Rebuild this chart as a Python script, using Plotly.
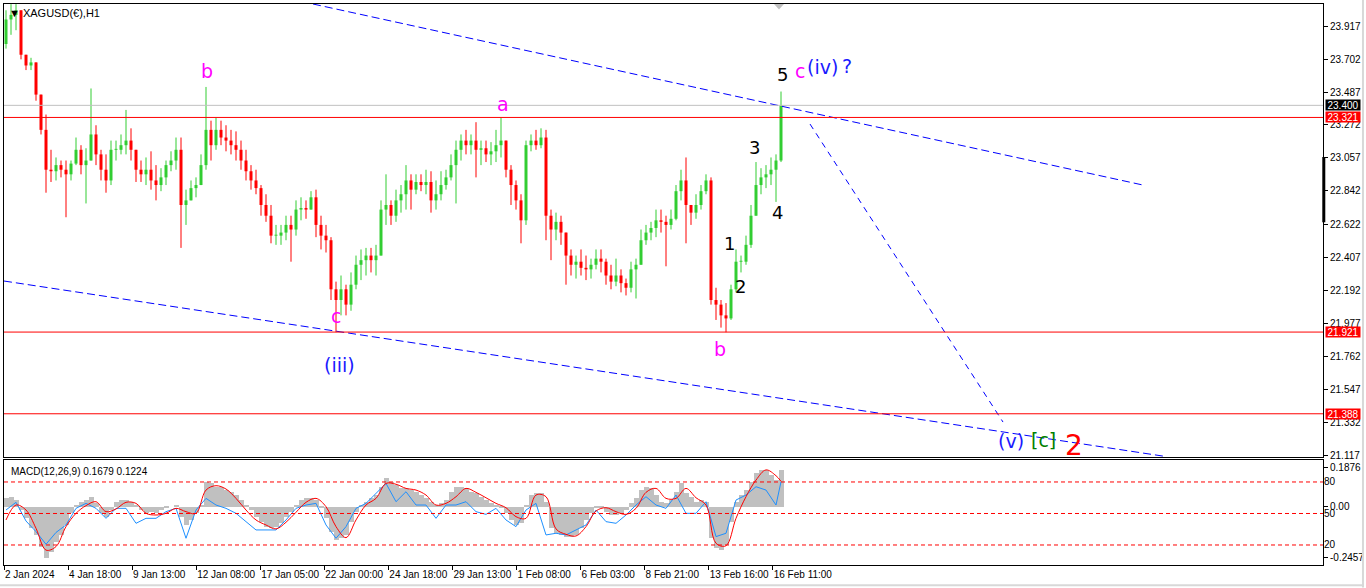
import plotly.graph_objects as go

# ---------------- DATA ----------------
symbol_title = "XAGUSD(€),H1"
macd_title = "MACD(12,26,9) 0.1679 0.1224"

first_open = 23.80
highs = [
    24.02, 24.06, 24.06, 24.02, 23.73, 23.71, 23.68, 23.47, 23.34, 23.11,
    23.06, 23.04, 23.04, 23.04, 23.19, 23.14, 23.12, 23.51, 23.27, 23.11,
    23.08, 23.17, 23.17, 23.21, 23.37, 23.25, 23.11, 23.04, 23.06, 23.10,
    23.01, 22.99, 23.04, 23.10, 23.19, 23.19, 22.85, 22.91, 22.93, 23.08,
    23.52, 23.30, 23.32, 23.30, 23.27, 23.24, 23.23, 23.17, 23.11, 23.01,
    22.98, 22.88, 22.82, 22.75, 22.62, 22.62, 22.68, 22.68, 22.78, 22.80,
    22.78, 22.84, 22.85, 22.68, 22.62, 22.54, 22.25, 22.29, 22.23, 22.31,
    22.42, 22.46, 22.47, 22.47, 22.49, 22.78, 22.95, 22.78, 22.85, 22.88,
    23.01, 22.95, 22.95, 22.95, 22.98, 22.97, 22.91, 22.97, 22.98, 23.08,
    23.17, 23.21, 23.24, 23.21, 23.29, 23.17, 23.17, 23.16, 23.24, 23.32,
    23.17, 23.01, 22.91, 22.82, 23.17, 23.21, 23.24, 23.25, 23.24, 22.72,
    22.70, 22.68, 22.55, 22.46, 22.42, 22.46, 22.42, 22.40, 22.46, 22.46,
    22.40, 22.36, 22.40, 22.33, 22.27, 22.38, 22.40, 22.59, 22.62, 22.64,
    22.72, 22.72, 22.68, 22.72, 22.88, 22.98, 23.06, 22.75, 22.82, 22.88,
    22.95, 22.93, 22.21, 22.13, 22.11, 22.23, 22.46, 22.42, 22.55, 22.75,
    23.03, 22.99, 23.01, 23.06, 23.08, 23.49,
]
lows = [
    23.77, 23.86, 23.89, 23.70, 23.63, 23.63, 23.43, 23.21, 22.83, 22.90,
    22.91, 22.93, 22.67, 22.91, 23.01, 22.95, 22.76, 23.04, 23.01, 22.91,
    22.83, 22.88, 23.04, 23.08, 23.08, 23.04, 22.90, 22.90, 22.88, 22.85,
    22.78, 22.84, 22.88, 22.97, 22.98, 22.47, 22.62, 22.78, 22.80, 22.88,
    22.98, 23.04, 23.11, 23.14, 23.10, 23.08, 23.04, 22.98, 22.91, 22.85,
    22.82, 22.68, 22.64, 22.50, 22.49, 22.49, 22.52, 22.38, 22.55, 22.65,
    22.66, 22.72, 22.54, 22.46, 22.44, 22.13, 21.92, 22.03, 22.03, 22.06,
    22.20, 22.26, 22.29, 22.31, 22.29, 22.42, 22.62, 22.62, 22.64, 22.70,
    22.72, 22.72, 22.82, 22.84, 22.82, 22.70, 22.72, 22.78, 22.85, 22.91,
    22.76, 23.04, 23.08, 23.08, 22.93, 23.01, 23.03, 23.01, 23.03, 23.06,
    22.93, 22.75, 22.72, 22.50, 22.62, 23.10, 23.11, 23.12, 22.52, 22.39,
    22.52, 22.49, 22.23, 22.29, 22.27, 22.29, 22.26, 22.27, 22.33, 22.31,
    22.23, 22.20, 22.22, 22.18, 22.16, 22.18, 22.14, 22.38, 22.49, 22.52,
    22.54, 22.57, 22.35, 22.59, 22.65, 22.78, 22.50, 22.62, 22.66, 22.72,
    22.82, 22.10, 22.00, 21.95, 21.92, 22.00, 22.18, 22.31, 22.36, 22.47,
    22.68, 22.82, 22.86, 22.88, 22.77, 23.03,
]
closes = [
    23.96, 23.99, 24.02, 23.73, 23.66, 23.68, 23.47, 23.24, 22.98, 22.97,
    23.01, 22.98, 22.95, 23.02, 23.11, 23.01, 23.04, 23.21, 23.08, 22.98,
    22.91, 23.11, 23.11, 23.14, 23.17, 23.11, 22.98, 22.95, 22.98, 22.91,
    22.88, 22.93, 23.01, 23.04, 23.11, 22.75, 22.78, 22.86, 22.88, 23.01,
    23.24, 23.14, 23.24, 23.19, 23.17, 23.14, 23.11, 23.04, 22.97, 22.91,
    22.86, 22.75, 22.68, 22.55, 22.55, 22.57, 22.62, 22.59, 22.72, 22.73,
    22.72, 22.80, 22.62, 22.55, 22.52, 22.20, 22.13, 22.20, 22.10, 22.23,
    22.36, 22.39, 22.42, 22.39, 22.42, 22.72, 22.75, 22.68, 22.78, 22.82,
    22.91, 22.85, 22.90, 22.88, 22.90, 22.78, 22.82, 22.88, 22.93, 23.01,
    23.11, 23.17, 23.14, 23.17, 23.11, 23.12, 23.08, 23.10, 23.14, 23.17,
    22.98, 22.88, 22.78, 22.65, 23.14, 23.17, 23.14, 23.19, 22.68, 22.59,
    22.64, 22.57, 22.42, 22.36, 22.38, 22.34, 22.33, 22.36, 22.40, 22.38,
    22.29, 22.25, 22.29, 22.24, 22.21, 22.33, 22.36, 22.52, 22.57, 22.60,
    22.65, 22.64, 22.62, 22.66, 22.84, 22.91, 22.75, 22.70, 22.75, 22.84,
    22.91, 22.13, 22.10, 22.03, 22.01, 22.20, 22.38, 22.38, 22.49, 22.68,
    22.88, 22.93, 22.95, 22.98, 23.04, 23.40,
]

macd_main = [
    0.040, 0.048, 0.032, -0.016, -0.056, -0.104, -0.136, -0.193, -0.245, -0.217,
    -0.168, -0.136, -0.088, -0.032, 0.008, 0.024, 0.032, 0.048, 0.016, -0.032,
    -0.048, -0.016, 0.024, 0.032, 0.032, 0.024, 0.008, -0.016, -0.032, -0.024,
    -0.032, -0.016, -0.008, 0.000, 0.008, -0.048, -0.088, -0.064, -0.032, 0.008,
    0.120, 0.112, 0.096, 0.096, 0.080, 0.072, 0.056, 0.032, 0.008, -0.016,
    -0.048, -0.072, -0.096, -0.104, -0.096, -0.080, -0.048, -0.024, 0.008, 0.032,
    0.040, 0.040, 0.032, -0.008, -0.056, -0.120, -0.160, -0.152, -0.136, -0.072,
    -0.024, 0.008, 0.024, 0.040, 0.056, 0.096, 0.136, 0.120, 0.104, 0.088,
    0.088, 0.080, 0.072, 0.056, 0.040, 0.024, 0.008, 0.016, 0.032, 0.072,
    0.096, 0.096, 0.088, 0.072, 0.064, 0.048, 0.032, 0.016, 0.008, -0.008,
    -0.032, -0.064, -0.088, -0.080, 0.008, 0.056, 0.064, 0.064, 0.024, -0.104,
    -0.128, -0.136, -0.144, -0.144, -0.136, -0.104, -0.064, -0.032, -0.008, -0.008,
    -0.024, -0.040, -0.040, -0.032, -0.016, 0.016, 0.040, 0.080, 0.096, 0.088,
    0.056, 0.024, 0.016, 0.032, 0.072, 0.112, 0.064, 0.048, 0.024, 0.032,
    0.024, -0.152, -0.200, -0.208, -0.185, -0.072, 0.024, 0.056, 0.080, 0.120,
    0.160, 0.177, 0.177, 0.153, 0.128, 0.175,
]
macd_signal = [
    -0.064, 0.008, -0.016, -0.104, -0.209, -0.192, -0.096, -0.032, 0.005, 0.024,
    -0.024, -0.011, 0.021, 0.016, -0.032, -0.040, -0.032, -0.008, -0.024, -0.032,
    0.080, 0.101, 0.085, 0.040, -0.016, -0.064, -0.088, -0.107, -0.075, -0.027,
    0.021, 0.040, 0.000, -0.096, -0.149, -0.064, 0.008, 0.040, 0.112, 0.108,
    0.088, 0.080, 0.056, 0.008, 0.016, 0.048, 0.088, 0.069, 0.043, 0.016,
    -0.005, -0.048, -0.056, 0.056, 0.048, -0.107, -0.133, -0.141, -0.096, -0.021,
    -0.005, -0.024, -0.037, -0.008, 0.069, 0.088, 0.040, 0.040, 0.088, 0.043,
    0.008, -0.176, -0.188, -0.056, 0.048, 0.128, 0.177, 0.149, 0.122,
]
fast_line = [
    -0.016, 0.021, -0.069, -0.120, -0.181, -0.124, -0.088, -0.008, 0.016, -0.008,
    -0.056, -0.008, -0.008, -0.080, -0.056, -0.056, -0.024, -0.008, -0.152, -0.016,
    0.040, 0.008, -0.008, -0.032, -0.072, -0.112, -0.112, -0.112, -0.064, -0.008,
    0.008, 0.016, -0.088, -0.152, -0.096, -0.008, 0.016, 0.064, 0.112, 0.024,
    0.072, 0.008, 0.008, -0.056, 0.008, 0.008, 0.024, -0.024, -0.037, -0.008,
    -0.064, -0.096, -0.016, 0.016, -0.136, -0.128, -0.136, -0.112, -0.088, -0.016,
    -0.072, -0.080, -0.040, 0.008, 0.048, 0.008, -0.008, 0.056, -0.032, -0.032,
    0.024, -0.144, -0.128, 0.032, 0.056, 0.096, 0.080, 0.008, 0.120,
]

time_labels = ["2 Jan 2024", "4 Jan 18:00", "9 Jan 13:00", "12 Jan 08:00",
               "17 Jan 05:00", "22 Jan 00:00", "24 Jan 18:00", "29 Jan 13:00",
               "1 Feb 08:00", "6 Feb 03:00", "8 Feb 21:00", "13 Feb 16:00",
               "16 Feb 11:00"]
price_ticks = [23.917, 23.702, 23.487, 23.272, 23.057, 22.842, 22.622,
               22.407, 22.192, 21.977, 21.762, 21.547, 21.332, 21.117]
macd_ticks = [0.1876, 0.0, -0.2457]
macd_tick_text = ["0.1876", "0.00", "-0.2457"]
level_ticks = [80, 50, 20]

bid_level = 23.400
red_levels = [23.321, 21.921, 21.388]

# trendlines: (bar0, price0, bar1, price1)
trendlines = [
    (61.4, 24.061, 227.4, 22.880),
    (-0.4, 22.254, 231.4, 21.112),
    (160.8, 23.278, 199.4, 21.334),
]

# wave labels: (bar, price, text, colour, size)
wave_labels = [
    (40.2, 23.624, "b", "#ff00ff", 19),
    (99.4, 23.409, "a", "#ff00ff", 19),
    (66.0, 22.026, "c", "#ff00ff", 19),
    (66.6, 21.706, "(iii)", "#1a1aff", 19),
    (142.8, 21.810, "b", "#ff00ff", 19),
    (144.6, 22.502, "1", "#000000", 18),
    (146.8, 22.221, "2", "#000000", 18),
    (149.6, 23.128, "3", "#000000", 18),
    (154.2, 22.698, "4", "#000000", 18),
    (155.2, 23.604, "5", "#000000", 18),
    (158.8, 23.624, "c", "#ff00ff", 19),
    (163.2, 23.650, "(iv)", "#1a1aff", 19),
    (168.2, 23.657, "?", "#1a1aff", 19),
    (201.0, 21.210, "(v)", "#1a1aff", 19),
    (207.4, 21.217, "[c]", "#008000", 19),
    (213.6, 21.184, "2", "#ff0000", 28),
]

# ---------------- BUILD ----------------
n = len(closes)
bars = list(range(n))
opens = [first_open] + closes[:-1]
hi = [max(h, o, c) for h, o, c in zip(highs, opens, closes)]
lo = [min(l, o, c) for l, o, c in zip(lows, opens, closes)]
sig_bars = list(range(0, n - 1, 2)) + [n - 1]

X_RANGE = [-0.4, 263.4]
Y_RANGE = [21.106, 24.061]
M_RANGE = [-0.2807, 0.2248]
L_RANGE = [0.95, 100.95]
FONT = "Liberation Sans"
UP, DOWN = "#32cd32", "#ff0000"

fig = go.Figure()

# candles drawn as wick + body segments (thin MT4-style bars)
for colour, is_up in ((UP, True), (DOWN, False)):
    wx, wy, bx, by = [], [], [], []
    for i in bars:
        if (closes[i] >= opens[i]) != is_up:
            continue
        wx += [i, i, None]
        wy += [lo[i], hi[i], None]
        bot, top = min(opens[i], closes[i]), max(opens[i], closes[i])
        if top - bot < 0.006:
            top = bot + 0.006
        bx += [i, i, None]
        by += [bot, top, None]
    fig.add_trace(go.Scatter(x=wx, y=wy, mode="lines", line=dict(color=colour, width=1),
                             xaxis="x", yaxis="y", hoverinfo="skip"))
    fig.add_trace(go.Scatter(x=bx, y=by, mode="lines", line=dict(color=colour, width=3),
                             xaxis="x", yaxis="y", hoverinfo="skip"))

# trendlines
dashes = ["8px,4px", "8px,4px", "6px,5px"]
for (b0, p0, b1, p1), d in zip(trendlines, dashes):
    fig.add_trace(go.Scatter(x=[b0, b1], y=[p0, p1], mode="lines",
                             line=dict(color="#0000ff", width=1, dash=d),
                             xaxis="x", yaxis="y"))

# MACD panel
fig.add_trace(go.Bar(x=bars, y=macd_main, width=1.0, marker=dict(color="#c0c0c0", line=dict(width=0)),
                     xaxis="x2", yaxis="y2", hoverinfo="skip"))
fig.add_trace(go.Scatter(x=sig_bars, y=fast_line, mode="lines",
                         line=dict(color="#1e90ff", width=1), xaxis="x2", yaxis="y2"))
fig.add_trace(go.Scatter(x=sig_bars, y=macd_signal, mode="lines", line_shape="spline",
                         line=dict(color="#ff0000", width=1), xaxis="x2", yaxis="y2"))

# horizontal levels as shapes
shapes = [dict(type="line", xref="x", yref="y", x0=X_RANGE[0], x1=X_RANGE[1],
               y0=bid_level, y1=bid_level, line=dict(color="#c0c0c0", width=1), layer="above")]
for lv in red_levels:
    shapes.append(dict(type="line", xref="x", yref="y", x0=X_RANGE[0], x1=X_RANGE[1],
                       y0=lv, y1=lv, line=dict(color="#ff0000", width=1), layer="above"))
for lv in level_ticks:
    shapes.append(dict(type="line", xref="x2", yref="y3", x0=X_RANGE[0], x1=X_RANGE[1],
                       y0=lv, y1=lv, line=dict(color="#ff0000", width=1, dash="4px,3px"), layer="above"))
shapes += [
    dict(type="line", xref="paper", yref="y", x0=1.0006, x1=1.0006, y0=23.063, y1=22.637,
         line=dict(color="#000000", width=3)),
    dict(type="path", xref="x", yref="paper", path="M 153.6 1.0 L 155.6 1.0 L 154.6 0.990 Z",
         fillcolor="#c0c0c0", line=dict(width=0)),
    dict(type="line", xref="paper", yref="paper", x0=1.0303, x1=1.0303, y0=-0.04, y1=1.01,
         line=dict(color="#d8d8d8", width=2)),
    dict(type="line", xref="paper", yref="paper", x0=-0.01, x1=1.031, y0=-0.036, y1=-0.036,
         line=dict(color="#d8d8d8", width=2)),
]

annotations = []
for b, p, t, col, sz in wave_labels:
    annotations.append(dict(x=b, y=p, xref="x", yref="y", text=t, showarrow=False,
                            font=dict(family="DejaVu Sans", size=sz, color=col)))

# price tags on the right axis
annotations.append(dict(x=1.0015, y=bid_level, xref="paper", yref="y", text=f"{bid_level:.3f}",
                        showarrow=False, xanchor="left", bgcolor="#000000", width=34, height=10,
                        font=dict(family=FONT, size=10, color="#ffffff"), borderpad=0))
for lv in red_levels:
    annotations.append(dict(x=1.0015, y=lv, xref="paper", yref="y", text=f"{lv:.3f}",
                            showarrow=False, xanchor="left", bgcolor="#ff0000", width=34, height=10,
                            font=dict(family=FONT, size=10, color="#ffffff"), borderpad=0))

annotations.append(dict(x=0.002, y=0.9835, xref="paper", yref="paper", xanchor="left", yanchor="middle",
                        text="▼ " + symbol_title, showarrow=False,
                        font=dict(family=FONT, size=11, color="#000000")))
annotations.append(dict(x=0.0035, y=0.1675, xref="paper", yref="paper", xanchor="left", yanchor="middle",
                        text=macd_title, showarrow=False,
                        font=dict(family=FONT, size=10, color="#000000")))

tick_pos = [X_RANGE[0] + 12.812 * k for k in range(len(time_labels))]

axis_common = dict(showline=True, linecolor="#000000", linewidth=1, mirror=True,
                   showgrid=False, zeroline=False, automargin=False)

fig.update_layout(
    width=1366, height=588,
    margin=dict(l=4, r=43, t=4, b=23, autoexpand=False),
    paper_bgcolor="#ffffff", plot_bgcolor="#ffffff",
    showlegend=False, hovermode=False, bargap=0,
    font=dict(family=FONT, size=10, color="#000000"),
    xaxis=dict(domain=[0, 1], anchor="y", range=X_RANGE, showticklabels=False, ticks="",
               **axis_common),
    yaxis=dict(domain=[0.1925, 1], anchor="x", side="right", range=Y_RANGE,
               tickvals=price_ticks, ticktext=[f"{v:.3f}" for v in price_ticks],
               ticks="outside", ticklen=4, tickcolor="#000000",
               tickfont=dict(family=FONT, size=10, color="#000000"), **axis_common),
    xaxis2=dict(domain=[0, 1], anchor="y2", range=X_RANGE, matches="x",
                tickvals=tick_pos, ticktext=time_labels, ticks="outside", ticklen=4,
                tickcolor="#000000", tickangle=0, ticklabelposition="outside right",
                tickfont=dict(family=FONT, size=10, color="#000000"), **axis_common),
    yaxis2=dict(domain=[0, 0.1872], anchor="x2", side="right", range=M_RANGE,
                tickvals=macd_ticks, ticktext=macd_tick_text,
                ticks="outside", ticklen=4, tickcolor="#000000",
                tickfont=dict(family=FONT, size=10, color="#000000"), **axis_common),
    yaxis3=dict(overlaying="y2", anchor="x2", side="right", range=L_RANGE,
                tickvals=level_ticks, ticktext=[str(v) for v in level_ticks],
                ticks="", showgrid=False, zeroline=False, showline=False, automargin=False,
                tickfont=dict(family=FONT, size=10, color="#000000")),
    annotations=annotations,
    shapes=shapes,
)

fig.write_html("out.html", config={"displayModeBar": False},
               post_script="document.body.style.margin='0';document.body.style.padding='0';")
